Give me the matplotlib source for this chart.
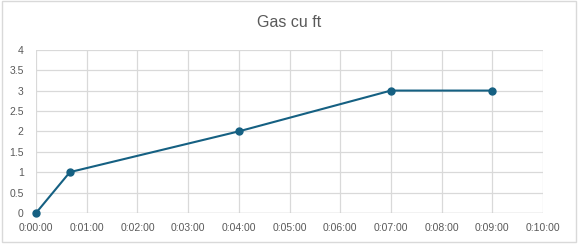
import matplotlib
matplotlib.use("Agg")
import matplotlib.pyplot as plt
from matplotlib.patches import Rectangle

times = ["0:00:00", "0:00:40", "0:04:00", "0:07:00", "0:09:00"]
gas = [0, 1, 2, 3, 3]
x_ticks = ["0:00:00", "0:01:00", "0:02:00", "0:03:00", "0:04:00", "0:05:00",
           "0:06:00", "0:07:00", "0:08:00", "0:09:00", "0:10:00"]
y_ticks = [0, 0.5, 1, 1.5, 2, 2.5, 3, 3.5, 4]
y_labels = ["0", "0.5", "1", "1.5", "2", "2.5", "3", "3.5", "4"]

def to_sec(s):
    h, m, sec = s.split(":")
    return int(h) * 3600 + int(m) * 60 + int(sec)

xs = [to_sec(t) for t in times]
xt = [to_sec(t) for t in x_ticks]

plt.rcParams['font.family'] = ['Liberation Sans', 'DejaVu Sans']
fig = plt.figure(figsize=(5.82, 2.49), dpi=100)
fig.patches.append(Rectangle((0.0034, 0.028), 0.986, 0.966, transform=fig.transFigure,
                             fill=False, edgecolor="#D9D9D9", linewidth=1.0))
ax = fig.add_axes([0.062, 0.145, 0.871, 0.655])
color = "#156082"
ax.plot(xs, gas, color=color, linewidth=1.5, marker="o", markersize=5, zorder=3, clip_on=False)
ax.set_xlim(xt[0], xt[-1])
ax.set_ylim(0, 4)
ax.set_xticks(xt)
ax.set_xticklabels(x_ticks)
ax.set_yticks(y_ticks)
ax.set_yticklabels(y_labels)
ax.grid(True, color="#D9D9D9", linewidth=0.9)
for s in ax.spines.values():
    s.set_visible(False)
ax.axhline(0, color="#BFBFBF", linewidth=0.9, zorder=2)
ax.tick_params(length=0, labelsize=7.5, labelcolor="#595959")
ax.tick_params(axis="x", pad=7)
ax.tick_params(axis="y", pad=9)
fig.text(0.496, 0.909, "Gas cu ft", fontsize=11.5, color="#595959", ha="center", va="center")
fig.savefig("out.png", dpi=100)
